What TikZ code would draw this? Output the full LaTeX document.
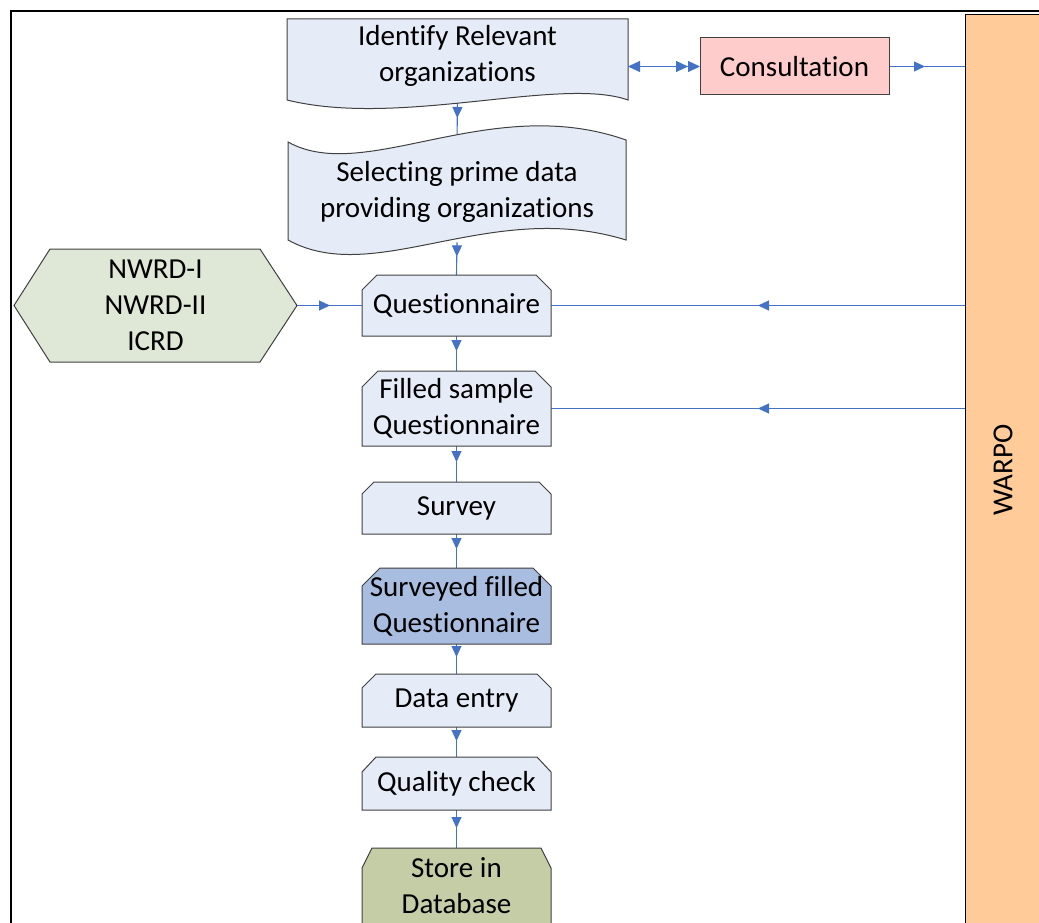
\documentclass[tikz,border=0pt]{standalone}
\usepackage{fontspec}
\usepackage{graphicx}
\setmainfont{Carlito}[Ligatures=NoCommon]
\usetikzlibrary{arrows.meta,decorations.markings}
\pgfdeclarelayer{conn}
\pgfdeclarelayer{shapes}
\pgfsetlayers{conn,shapes,main}
\definecolor{conncol}{HTML}{4472C4}
\definecolor{cardfill}{HTML}{E6ECF7}
\definecolor{cardline}{HTML}{404040}
\definecolor{svfill}{HTML}{A8BDE0}
\definecolor{stfill}{HTML}{C5CDA7}
\definecolor{hexfill}{HTML}{DFE7D6}
\definecolor{consfill}{HTML}{FFCCCC}
\definecolor{warpofill}{HTML}{FFCB99}
\tikzset{
  lbl/.style={inner sep=0pt, outer sep=0pt, align=center, font=\fontsize{29}{36}\selectfont},
  connline/.style={color=conncol, line width=1.1pt},
  midarrow/.style={postaction={decorate, decoration={markings, mark=at position #1 with {\arrow{Triangle[length=11pt,width=10pt]}}}}},
  shapeline/.style={draw=cardline, line width=1pt},
}
\newcommand{\cardpath}[4]{%
  \path[shapeline, fill=#2] (#1.south west) -- ([yshift=-#4]#1.north west) -- ([xshift=#3]#1.north west) -- ([xshift=-#3]#1.north east) -- ([yshift=-#4]#1.north east) -- (#1.south east) -- cycle;}
\begin{document}
\begin{tikzpicture}[x=1pt,y=-1pt]
\useasboundingbox (0,0) rectangle (1039,923);
% nodes (text)
\node[lbl, minimum width=341pt, minimum height=88pt] (id) at (457.5,56) {Identify Relevant\\organizations};
\node[lbl, minimum width=339pt, minimum height=100pt] (sel) at (457,192.4) {Selecting prime data\\providing organizations};
\node[lbl, minimum width=189pt, minimum height=57pt] (c) at (794.5,66.5) {Consultation};
\node[lbl, minimum width=76pt, minimum height=910pt] (w) at (1003,470) {\rotatebox{90}{WARPO}};
\node[lbl, minimum width=283pt, minimum height=113pt] (hex) at (155.5,305.5) {NWRD-I\\NWRD-II\\ICRD};
\node[lbl, minimum width=189pt, minimum height=61pt] (q) at (456.5,305.5) {Questionnaire};
\node[lbl, minimum width=189pt, minimum height=75pt] (f) at (456.5,408.5) {Filled sample\\Questionnaire};
\node[lbl, minimum width=189pt, minimum height=52pt] (s) at (456.5,508) {Survey};
\node[lbl, minimum width=189pt, minimum height=76pt] (sv) at (456.5,606) {Surveyed filled\\Questionnaire};
\node[lbl, minimum width=189pt, minimum height=53pt] (d) at (456.5,700.5) {Data entry};
\node[lbl, minimum width=189pt, minimum height=53pt] (qc) at (456.5,783.5) {Quality check};
\node[lbl, minimum width=189pt, minimum height=76pt] (st) at (456.5,886) {Store in\\Database};
% shapes
\begin{pgfonlayer}{shapes}
\draw[line width=2.5pt] (11,1000) -- (11,11) -- (1100,11);
\path[shapeline, fill=cardfill] (287,19) -- (628,19) -- (628,100) .. controls (560,76) and (400,128) .. (287,100) -- cycle;
\path[shapeline, fill=cardfill] (288,142) .. controls (365,185) and (490,92) .. (626,140) -- (626,240) .. controls (490,198) and (375,288) .. (288,240) -- cycle;
\path[shapeline, fill=consfill] (c.south west) rectangle (c.north east);
\path[draw=black, line width=1pt, fill=warpofill] (w.south west) rectangle (w.north east);
\path[shapeline, fill=hexfill] (hex.west) -- ([xshift=36pt]hex.north west) -- ([xshift=-37pt]hex.north east) -- (hex.east) -- ([xshift=-37pt]hex.south east) -- ([xshift=36pt]hex.south west) -- cycle;
\cardpath{q}{cardfill}{15pt}{15pt}
\cardpath{f}{cardfill}{16pt}{16pt}
\cardpath{s}{cardfill}{12pt}{12pt}
\cardpath{sv}{svfill}{18pt}{18pt}
\cardpath{d}{cardfill}{14pt}{14pt}
\cardpath{qc}{cardfill}{14pt}{15pt}
\cardpath{st}{stfill}{10pt}{20pt}
\end{pgfonlayer}
% connectors
\begin{pgfonlayer}{conn}
\draw[connline, midarrow=18pt] (id.south) -- (sel.north);
\draw[connline, midarrow=14pt] (sel.south) -- (q.north);
\draw[connline, midarrow=15pt] (q.south) -- (f.north);
\draw[connline, midarrow=16pt] (f.south) -- (s.north);
\draw[connline, midarrow=15pt] (s.south) -- (sv.north);
\draw[connline, midarrow=13pt] (sv.south) -- (d.north);
\draw[connline, midarrow=14pt] (d.south) -- (qc.north);
\draw[connline, midarrow=18pt] (qc.south) -- (st.north);
\draw[connline, midarrow=33pt] (hex.east) -- (q.west);
\draw[connline, midarrow=207pt] (w.west |- q.east) -- (q.east);
\draw[connline, midarrow=207pt] (w.west |- f.east) -- (f.east);
\draw[connline, midarrow=36pt] (c.east) -- (c.east -| w.west);
\draw[connline, {Triangle[length=12pt,width=11pt]}-{Triangle[length=12pt,width=11pt] Triangle[length=12pt,width=11pt]}] (id.east |- c.west) -- (c.west);
\end{pgfonlayer}
\end{tikzpicture}
\end{document}
